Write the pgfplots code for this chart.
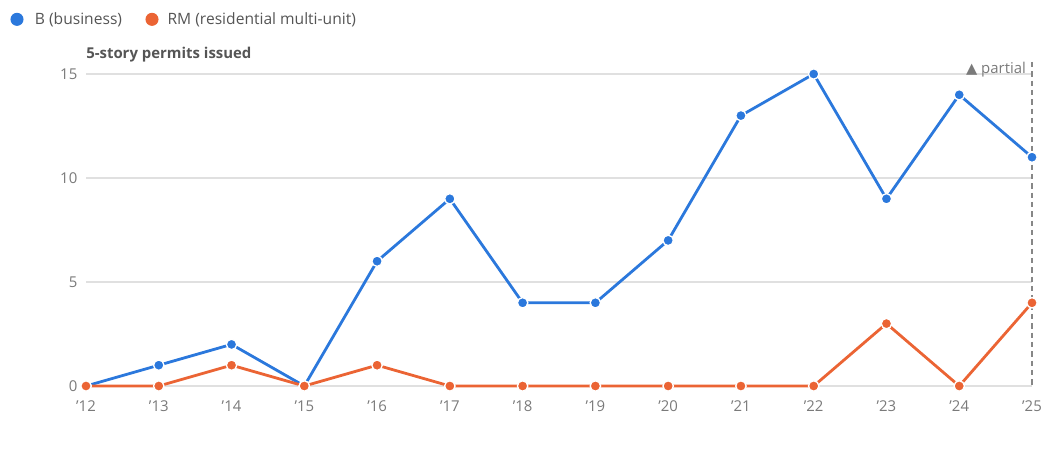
\documentclass[border=0pt]{standalone}
\usepackage{pgfplots}
\pgfplotsset{compat=1.18}
\usepackage{fontspec}
\setmainfont{Open Sans}
\newfontfamily\symfont{DejaVu Sans}
\definecolor{cB}{HTML}{2B78DC}
\definecolor{cRM}{HTML}{EB6434}
\definecolor{gridc}{HTML}{E0E0E0}
\definecolor{txt}{HTML}{555555}
\definecolor{tickc}{HTML}{7A7A7A}
\begin{document}
\begin{tikzpicture}[x=1pt,y=1pt]
\begin{axis}[
  scale only axis,
  width=709.5pt, height=234pt,
  at={(0,0)}, anchor=south west,
  xmin=0, xmax=13, ymin=0, ymax=15,
  clip=false,
  axis line style={draw=none},
  xtick={0,...,13},
  xticklabels={’12,’13,’14,’15,’16,’17,’18,’19,’20,’21,’22,’23,’24,’25},
  ytick={0,5,10,15},
  xmajorgrids=false,
  ymajorgrids=true,
  major grid style={draw=gridc, line width=0.8pt},
  major tick length=0pt,
  tick label style={font=\fontsize{11.2}{13}\selectfont, text=tickc},
  /pgf/number format/assume math mode=true,
  xticklabel style={yshift=-7.5pt},
  yticklabel style={xshift=-3pt},
  every axis plot/.append style={line width=2.1pt, mark=*, mark size=3.9pt, mark options={draw=white, line width=1pt}},
]
\addplot[cB] coordinates {(0,0)(1,1)(2,2)(3,0)(4,6)(5,9)(6,4)(7,4)(8,7)(9,13)(10,15)(11,9)(12,14)(13,11)};
\addplot[cRM] coordinates {(0,0)(1,0)(2,1)(3,0)(4,1)(5,0)(6,0)(7,0)(8,0)(9,0)(10,0)(11,3)(12,0)(13,4)};
\draw[tickc!90, line width=1.3pt, dash pattern=on 4pt off 3pt] (axis cs:13,15.58) -- (axis cs:13,0);
\node[anchor=east, text=tickc, font=\fontsize{11.2}{13}\selectfont, inner sep=0pt] at (axis cs:12.92,15.22) {{\symfont\fontsize{11}{12}\selectfont ▲} partial};
\end{axis}
\node[anchor=west, text=txt, font=\bfseries\fontsize{11.2}{13}\selectfont, inner sep=0pt] at (0pt,248.5pt) {5-story permits issued};
\fill[cB] (-64.5pt+12.75pt,275pt) circle (4.9pt);
\node[anchor=west, text=txt, font=\fontsize{11.7}{13}\selectfont, inner sep=0pt] at (-64.5pt+26pt,275pt) {B (business)};
\fill[cRM] (-64.5pt+114pt,275pt) circle (4.9pt);
\node[anchor=west, text=txt, font=\fontsize{11.7}{13}\selectfont, inner sep=0pt] at (-64.5pt+125.5pt,275pt) {RM (residential multi-unit)};
\useasboundingbox (-64.5pt,-53.25pt) rectangle (732.75pt,289.5pt);
\end{tikzpicture}
\end{document}
